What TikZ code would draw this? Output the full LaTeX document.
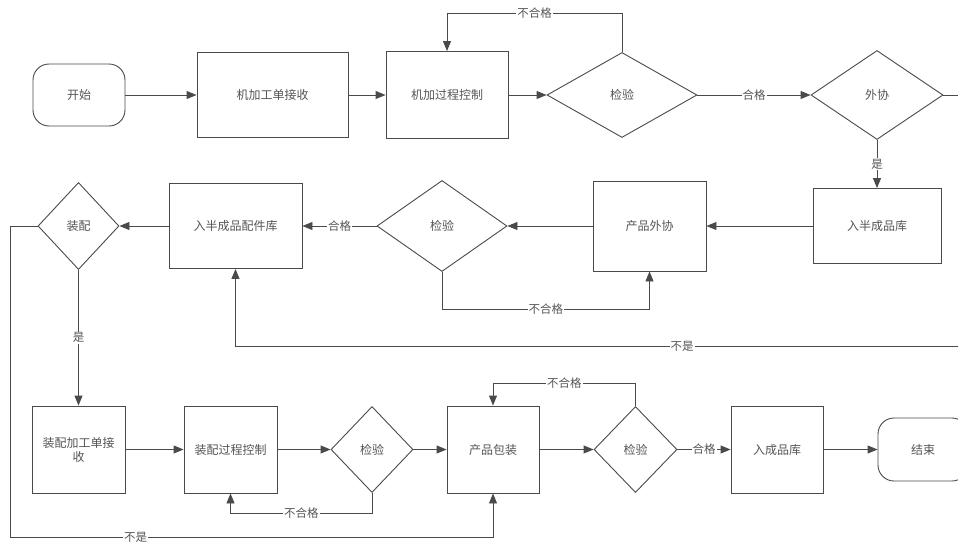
\documentclass[tikz,border=0pt]{standalone}
\usepackage{fontspec}
\setmainfont{Noto Sans CJK SC}
\usetikzlibrary{shapes.geometric,arrows.meta}
\definecolor{linec}{HTML}{4A4A4A}
\definecolor{textc}{HTML}{555555}
\tikzset{
  base/.style={draw=linec, line width=0.9pt, text=textc, font=\fontsize{12}{14}\selectfont, inner sep=0pt},
  proc/.style={base, rectangle, minimum width=#1},
  term/.style={base, rectangle, rounded corners=16pt, minimum width=#1, minimum height=62pt},
  dec/.style={base, diamond, minimum width=#1},
  arr/.style={draw=linec, line width=0.9pt, -{Triangle[length=10pt,width=8pt]}},
  ln/.style={draw=linec, line width=0.9pt},
  lbl/.style={fill=white, text=textc, font=\fontsize{11.5}{12}\selectfont, inner sep=1pt}
}
\begin{document}
\begin{tikzpicture}[x=1pt,y=-1pt]
\useasboundingbox (0,0) rectangle (958,546);
\clip (0,0) rectangle (958,546);
\fill[white] (0,0) rectangle (958,546);
% row 1
\node[term=92pt] (start) at (79,95) {开始};
\node[proc=151pt, minimum height=85pt] (recv1) at (272.5,95) {机加工单接收};
\node[proc=122pt, minimum height=87pt] (proc1) at (447,95) {机加过程控制};
\node[dec=150pt, minimum height=85pt] (chk1) at (622,95) {检验};
\node[dec=132pt, minimum height=89pt] (wx) at (877,95) {外协};
% row 2
\node[proc=128pt, minimum height=75pt] (bcp) at (877,226) {入半成品库};
\node[proc=113pt, minimum height=90pt] (cpwx) at (649.5,226) {产品外协};
\node[dec=130pt, minimum height=91pt] (chk2) at (442,226) {检验};
\node[proc=133pt, minimum height=85pt] (bcpk) at (235.5,226) {入半成品配件库};
\node[dec=81pt, minimum height=87pt] (zp) at (78.5,226) {装配};
% row 3
\node[proc=93pt, minimum height=87pt, align=center] (zprecv) at (78.5,449.5) {装配加工单接\\收};
\node[proc=93pt, minimum height=87pt] (zpproc) at (230.5,449.5) {装配过程控制};
\node[dec=82pt, minimum height=86pt] (chk3) at (372,449.5) {检验};
\node[proc=92pt, minimum height=87pt] (pack) at (493,449.5) {产品包装};
\node[dec=83pt, minimum height=86pt] (chk4) at (635.5,449.5) {检验};
\node[proc=92pt, minimum height=87pt] (store) at (777,449.5) {入成品库};
\node[term=90pt, minimum height=63pt] (end) at (923,449.5) {结束};
\coordinate (wxr) at (975,95);
\coordinate (nr) at (975,346);
\coordinate (zl) at (10,226);
\coordinate (zb) at (10,537);
% connectors row 1
\draw[arr] (start) -- (recv1);
\draw[arr] (recv1) -- (proc1);
\draw[arr] (proc1) -- (chk1);
\draw[arr] (chk1.north) -- ++(0,-39) -| node[lbl,pos=0.25]{不合格} (proc1.north);
\draw[arr] (chk1) -- node[lbl]{合格} (wx);
\draw[arr] (wx) -- node[lbl]{是} (bcp);
\draw[arr] (wx.east) -- (wxr) -- (nr) -| node[lbl,pos=0.198]{不是} (bcpk.south);
% row 2
\draw[arr] (bcp) -- (cpwx);
\draw[arr] (cpwx) -- (chk2);
\draw[arr] (chk2.south) -- ++(0,37) -| node[lbl,pos=0.25]{不合格} (cpwx.south);
\draw[arr] (chk2) -- node[lbl]{合格} (bcpk);
\draw[arr] (bcpk) -- (zp);
\draw[arr] (zp) -- node[lbl]{是} (zprecv);
\draw[arr] (zp.west) -- (zl) -- (zb) -| node[lbl,pos=0.13]{不是} (pack.south);
% row 3
\draw[arr] (zprecv) -- (zpproc);
\draw[arr] (zpproc) -- (chk3);
\draw[arr] (chk3.south) -- ++(0,20) -| node[lbl,pos=0.25]{不合格} (zpproc.south);
\draw[arr] (chk3) -- (pack);
\draw[arr] (pack) -- (chk4);
\draw[arr] (chk4.north) -- ++(0,-23) -| node[lbl,pos=0.25]{不合格} (pack.north);
\draw[arr] (chk4) -- node[lbl]{合格} (store);
\draw[arr] (store) -- (end);
\end{tikzpicture}
\end{document}
